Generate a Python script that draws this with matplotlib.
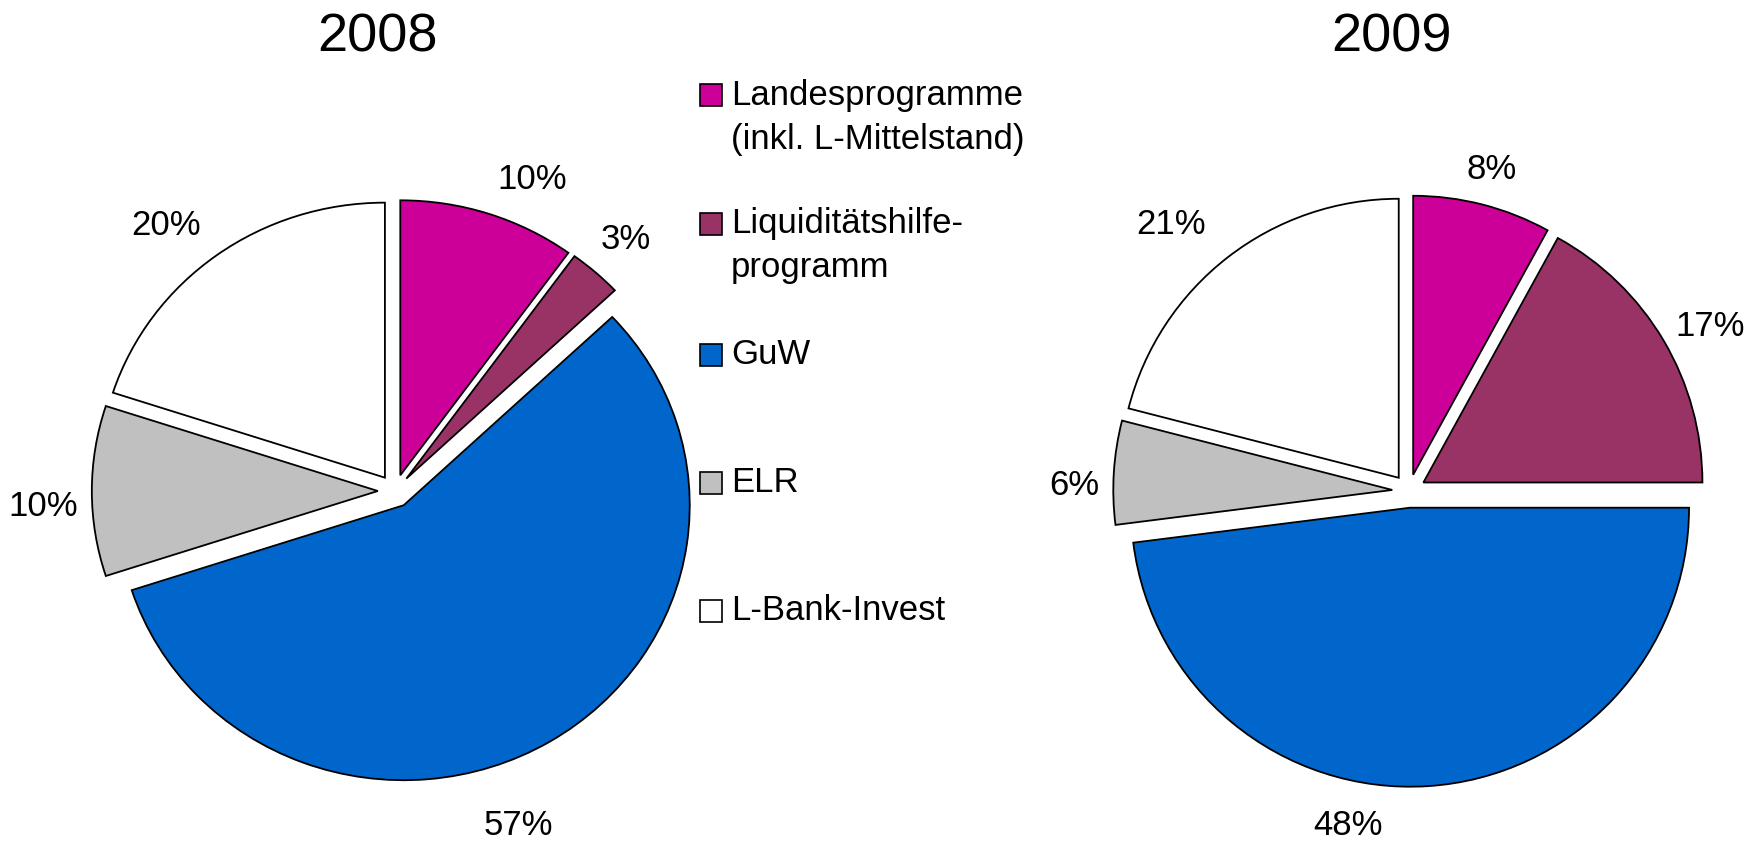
import numpy as np
import matplotlib.pyplot as plt
from matplotlib.patches import Rectangle

plt.rcParams["font.family"] = ["Liberation Sans", "DejaVu Sans"]

categories = [
    ["Landesprogramme", "(inkl. L-Mittelstand)"],
    ["Liquiditätshilfe-", "programm"],
    ["GuW"],
    ["ELR"],
    ["L-Bank-Invest"],
]
shares_2008 = [10, 3, 57, 10, 20]
shares_2009 = [8, 17, 48, 6, 21]
years = ["2008", "2009"]
colors = ["#CC0099", "#993366", "#0066CC", "#C0C0C0", "#FFFFFF"]

# label layout: angle nudge (deg) from slice middle, distance from centre (radii)
label_rot = [[-5, 0, -11, 2.6, 3.6], [0, -2, -14, 2.7, 4]]
label_dist = [[1.23, 1.22, 1.29, 1.23, 1.255], [1.19, 1.23, 1.22, 1.2, 1.28]]

W, H = 1763, 842
fig = plt.figure(figsize=(W / 100, H / 100), dpi=100)
LIM = 1.3


def pie_axes(cx, cy, rx, ry):
    # centre and radii in pixels (from top-left); radius 1 == rx px wide, ry px tall
    w, h = 2 * LIM * rx, 2 * LIM * ry
    return fig.add_axes([(cx - w / 2) / W, (H - cy - h / 2) / H, w / W, h / H])


# centre x, centre y, radius x, radius y (px)
setups = [(395, 491, 286, 275), (1409, 491, 279, 279)]
for k, ((cx, cy, rx, ry), year, vals) in enumerate(zip(setups, years, [shares_2008, shares_2009])):
    ax = pie_axes(cx, cy, rx, ry)
    wedges, _, pcts = ax.pie(vals, colors=colors, startangle=90, counterclock=False,
                             explode=[0.06] * len(vals), autopct="%1.0f%%",
                             wedgeprops=dict(edgecolor="black", linewidth=1.3),
                             textprops=dict(fontsize=25, color="black"))
    for w, t, rot, d in zip(wedges, pcts, label_rot[k], label_dist[k]):
        a = np.deg2rad((w.theta1 + w.theta2) / 2 + rot)
        t.set_position((d * np.cos(a), d * np.sin(a)))
    ax.set_xlim(-LIM, LIM)
    ax.set_ylim(-LIM, LIM)
    ax.set_aspect("auto")
    ax.axis("off")
    fig.text((cx - 18) / W, 1 - 38 / H, year, fontsize=39, ha="center", va="center")

# legend
leg_y = [95, 224, 355, 483, 611]
for y, lines, c in zip(leg_y, categories, colors):
    fig.patches.append(Rectangle((700 / W, 1 - (y + 11) / H), 22 / W, 22 / H,
                                 transform=fig.transFigure, facecolor=c,
                                 edgecolor="black", linewidth=1.2))
    for i, line in enumerate(lines):
        fig.text(731 / W, 1 - (y + 44 * i) / H, line, fontsize=25,
                 ha="left", va="center")

fig.savefig("out.png", dpi=100)
